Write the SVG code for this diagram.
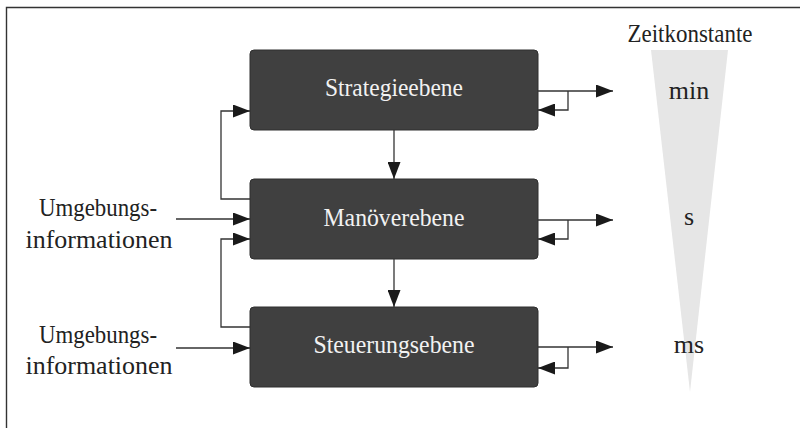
<svg xmlns="http://www.w3.org/2000/svg" width="800" height="428" viewBox="0 0 800 428">
<defs>
<style>
.box{fill:#404040;stroke:#2e2e2e;stroke-width:1}
text{font-family:'Liberation Serif','Times New Roman',Times,serif;font-size:26px;text-anchor:middle}
.bt{fill:#f2f2f2}
.lt{fill:#222}
.c{fill:none;stroke:#333;stroke-width:1.3}
</style>
<marker id="ah" markerWidth="17" markerHeight="13" refX="17" refY="6.5" orient="auto" markerUnits="userSpaceOnUse">
<path d="M0,0 L17,6.5 L0,13 z" fill="#1a1a1a"/>
</marker>
</defs>
<rect width="800" height="428" fill="#fff"/>
<path d="M6.5,428 V7.5 H800" fill="none" stroke="#333" stroke-width="1.4"/>
<g id="zeit">
<polygon points="651,50 728,50 690,392" fill="#e6e6e6"/>
<text class="lt" x="690" y="42" textLength="125" lengthAdjust="spacingAndGlyphs">Zeitkonstante</text>
<text class="lt" x="689" y="99">min</text>
<text class="lt" x="689" y="225">s</text>
<text class="lt" x="689" y="353">ms</text>
</g>
<g id="strategie">
<rect class="box" x="250" y="50" width="288" height="80" rx="4"/>
<text class="bt" x="394" y="96" textLength="138" lengthAdjust="spacingAndGlyphs">Strategieebene</text>
</g>
<g id="manoever">
<rect class="box" x="250" y="179" width="288" height="80" rx="4"/>
<text class="bt" x="394" y="226" textLength="141" lengthAdjust="spacingAndGlyphs">Manöverebene</text>
</g>
<g id="steuerung">
<rect class="box" x="250" y="307" width="288" height="80" rx="4"/>
<text class="bt" x="394" y="353" textLength="161" lengthAdjust="spacingAndGlyphs">Steuerungsebene</text>
</g>
<g id="umgebung1">
<text class="lt" x="98" y="216" textLength="118" lengthAdjust="spacingAndGlyphs">Umgebungs-</text>
<text class="lt" x="99" y="248" textLength="147" lengthAdjust="spacingAndGlyphs">informationen</text>
</g>
<g id="umgebung2">
<text class="lt" x="98" y="343" textLength="118" lengthAdjust="spacingAndGlyphs">Umgebungs-</text>
<text class="lt" x="99" y="374" textLength="147" lengthAdjust="spacingAndGlyphs">informationen</text>
</g>
<g id="connectors">
<path class="c" d="M394,130 V179" marker-end="url(#ah)"/>
<path class="c" d="M394,259 V307" marker-end="url(#ah)"/>
<path class="c" d="M250,199 H221 V111 H250" marker-end="url(#ah)"/>
<path class="c" d="M250,327 H221 V239 H250" marker-end="url(#ah)"/>
<path class="c" d="M176,219 H250" marker-end="url(#ah)"/>
<path class="c" d="M176,348 H250" marker-end="url(#ah)"/>
<path class="c" d="M538,91 H613" marker-end="url(#ah)"/>
<path class="c" d="M568,91 V110 H538" marker-end="url(#ah)"/>
<path class="c" d="M538,220 H613" marker-end="url(#ah)"/>
<path class="c" d="M568,220 V239 H538" marker-end="url(#ah)"/>
<path class="c" d="M538,347 H613" marker-end="url(#ah)"/>
<path class="c" d="M568,347 V368 H538" marker-end="url(#ah)"/>
</g>
</svg>
